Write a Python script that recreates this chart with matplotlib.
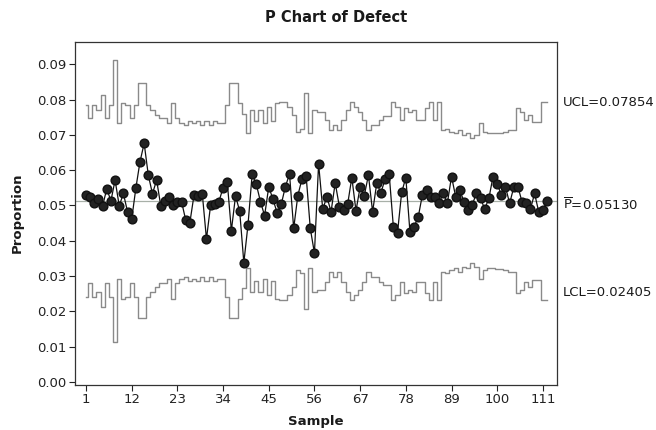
import matplotlib
matplotlib.use("Agg")
import matplotlib.pyplot as plt
import matplotlib.transforms as mtransforms

plt.rcParams['font.family'] = ['DejaVu Sans']

title = "P Chart of Defect"
x_label = "Sample"
y_label = "Proportion"

proportion = [
    0.0530, 0.0525, 0.0508, 0.0518, 0.0499, 0.0547, 0.0513, 0.0572, 0.0499, 0.0534,
    0.0482, 0.0461, 0.0549, 0.0624, 0.0676, 0.0586, 0.0533, 0.0572, 0.0499, 0.0513,
    0.0523, 0.0501, 0.0511, 0.0511, 0.0459, 0.0451, 0.0529, 0.0527, 0.0533, 0.0405,
    0.0501, 0.0504, 0.0511, 0.0550, 0.0567, 0.0429, 0.0527, 0.0484, 0.0338, 0.0445,
    0.0588, 0.0560, 0.0511, 0.0471, 0.0553, 0.0518, 0.0480, 0.0503, 0.0553, 0.0589,
    0.0435, 0.0528, 0.0575, 0.0584, 0.0435, 0.0365, 0.0618, 0.0489, 0.0525, 0.0482,
    0.0564, 0.0497, 0.0487, 0.0504, 0.0579, 0.0485, 0.0552, 0.0528, 0.0586, 0.0482,
    0.0563, 0.0536, 0.0574, 0.0588, 0.0440, 0.0423, 0.0537, 0.0579, 0.0424, 0.0440,
    0.0468, 0.0531, 0.0544, 0.0525, 0.0525, 0.0506, 0.0534, 0.0506, 0.0582, 0.0525,
    0.0544, 0.0511, 0.0487, 0.0501, 0.0536, 0.0520, 0.0490, 0.0520, 0.0582, 0.0561,
    0.0530, 0.0552, 0.0506, 0.0552, 0.0553, 0.0509, 0.0506, 0.0489, 0.0534, 0.0482,
    0.0487, 0.0513,
]

ucl = [
    0.0785, 0.0747, 0.0785, 0.0771, 0.0813, 0.0747, 0.0785, 0.0912, 0.0733, 0.0790,
    0.0785, 0.0747, 0.0785, 0.0846, 0.0846, 0.0785, 0.0771, 0.0757, 0.0747, 0.0747,
    0.0733, 0.0790, 0.0747, 0.0733, 0.0728, 0.0740, 0.0733, 0.0740, 0.0728, 0.0740,
    0.0728, 0.0740, 0.0733, 0.0733, 0.0785, 0.0846, 0.0846, 0.0790, 0.0760, 0.0704,
    0.0771, 0.0740, 0.0771, 0.0733, 0.0780, 0.0740, 0.0790, 0.0794, 0.0794, 0.0780,
    0.0757, 0.0709, 0.0718, 0.0818, 0.0704, 0.0771, 0.0766, 0.0766, 0.0742, 0.0714,
    0.0728, 0.0714, 0.0742, 0.0771, 0.0794, 0.0780, 0.0766, 0.0742, 0.0714, 0.0728,
    0.0728, 0.0742, 0.0752, 0.0752, 0.0794, 0.0780, 0.0742, 0.0775, 0.0766, 0.0771,
    0.0742, 0.0742, 0.0775, 0.0794, 0.0742, 0.0794, 0.0714, 0.0718, 0.0709, 0.0704,
    0.0714, 0.0700, 0.0704, 0.0690, 0.0700, 0.0733, 0.0709, 0.0704, 0.0704, 0.0706,
    0.0706, 0.0709, 0.0714, 0.0714, 0.0775, 0.0766, 0.0742, 0.0757, 0.0737, 0.0737,
    0.0794, 0.0794,
]

lcl = [
    0.0241, 0.0279, 0.0241, 0.0255, 0.0213, 0.0279, 0.0241, 0.0114, 0.0293, 0.0236,
    0.0241, 0.0279, 0.0241, 0.0180, 0.0180, 0.0241, 0.0255, 0.0269, 0.0279, 0.0279,
    0.0293, 0.0236, 0.0279, 0.0293, 0.0298, 0.0286, 0.0293, 0.0286, 0.0298, 0.0286,
    0.0298, 0.0286, 0.0293, 0.0293, 0.0241, 0.0180, 0.0180, 0.0236, 0.0266, 0.0322,
    0.0255, 0.0286, 0.0255, 0.0293, 0.0246, 0.0286, 0.0236, 0.0232, 0.0232, 0.0246,
    0.0269, 0.0317, 0.0308, 0.0208, 0.0322, 0.0255, 0.0260, 0.0260, 0.0284, 0.0312,
    0.0298, 0.0312, 0.0284, 0.0255, 0.0232, 0.0246, 0.0260, 0.0284, 0.0312, 0.0298,
    0.0298, 0.0284, 0.0274, 0.0274, 0.0232, 0.0246, 0.0284, 0.0251, 0.0260, 0.0255,
    0.0284, 0.0284, 0.0251, 0.0232, 0.0284, 0.0232, 0.0312, 0.0308, 0.0317, 0.0322,
    0.0312, 0.0326, 0.0322, 0.0336, 0.0326, 0.0293, 0.0317, 0.0322, 0.0322, 0.0320,
    0.0320, 0.0317, 0.0312, 0.0312, 0.0251, 0.0260, 0.0284, 0.0269, 0.0289, 0.0289,
    0.0232, 0.0232,
]

p_bar = 0.05130
ucl_label = "UCL=0.07854"
pbar_label = r"$\overline{\mathrm{P}}$=0.05130"
lcl_label = "LCL=0.02405"

x_ticks = [1, 12, 23, 34, 45, 56, 67, 78, 89, 100, 111]
y_ticks = [0.00, 0.01, 0.02, 0.03, 0.04, 0.05, 0.06, 0.07, 0.08, 0.09]

samples = list(range(1, len(proportion) + 1))

W, H = 656, 430
fig = plt.figure(figsize=(W / 100, H / 100), dpi=100)
ax = fig.add_axes([75 / W, 1 - 385 / H, (557 - 75) / W, (385 - 42) / H])

limit_color = "#8a8a8a"
ax.step(samples, ucl, where="mid", color=limit_color, lw=1.0, zorder=2)
ax.step(samples, lcl, where="mid", color=limit_color, lw=1.0, zorder=2)
ax.axhline(p_bar, color="#a8b0a8", lw=0.9, zorder=1)
ax.plot(samples, proportion, color="#111111", lw=0.9, marker="o", ms=6.3,
        markerfacecolor="#222222", markeredgecolor="#111111", zorder=3)

ax.set_xlim(-1.65, 114.4)
ax.set_ylim(-0.00085, 0.0963)
ax.set_xticks(x_ticks)
ax.set_xticklabels([str(t) for t in x_ticks], fontsize=9.5)
ax.set_yticks(y_ticks)
ax.set_yticklabels([f"{t:.2f}" for t in y_ticks], fontsize=9.5)
ax.tick_params(direction="out", length=4, width=0.8, colors="#222222", pad=2)

for sp in ax.spines.values():
    sp.set_color("#333333")
    sp.set_linewidth(0.9)

fig.text(336 / W, 1 - 18 / H, title, ha="center", va="center",
         fontsize=10.5, fontweight="bold", color="#1a1a1a")
fig.text(316 / W, 1 - 421 / H, x_label, ha="center", va="center",
         fontsize=9.5, fontweight="bold", color="#1a1a1a")
fig.text(17 / W, 1 - 213 / H, y_label, ha="center", va="center", rotation=90,
         fontsize=9.5, fontweight="bold", color="#1a1a1a")

fig.text(563 / W, 1 - 102 / H, ucl_label, ha="left", va="center", fontsize=9.5, color="#1a1a1a")
fig.text(563 / W, 1 - 205 / H, pbar_label, ha="left", va="center", fontsize=9.5, color="#1a1a1a")
fig.text(563 / W, 1 - 292 / H, lcl_label, ha="left", va="center", fontsize=9.5, color="#1a1a1a")

fig.savefig("out.png", dpi=100)
